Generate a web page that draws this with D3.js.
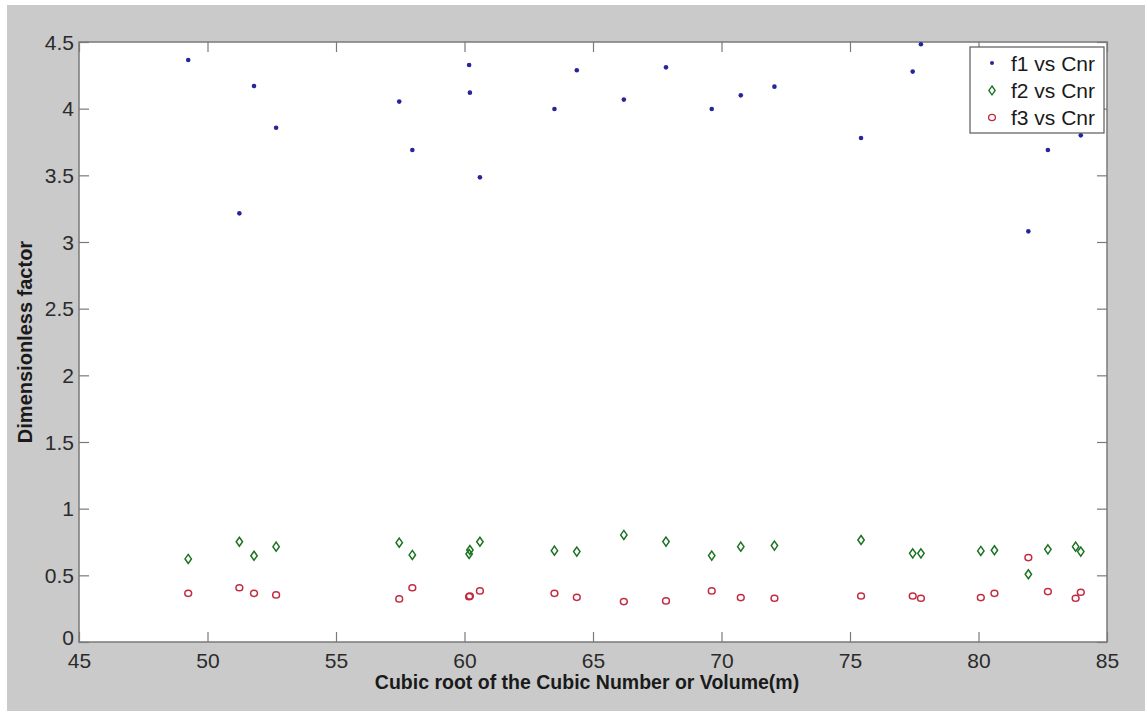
<!DOCTYPE html>
<html>
<head>
<meta charset="utf-8">
<script src="https://cdn.jsdelivr.net/npm/d3@7"></script>
<style>
  html, body { margin: 0; padding: 0; background: #ffffff; }
  svg { display: block; font-family: "Liberation Sans", Arial, sans-serif; }
</style>
</head>
<body>
<svg id="chart" width="1145" height="711"></svg>
<script>
// Cubic root of cubic number / volume (m) for each sample
const cnr = [49.25, 51.24, 51.81, 52.67, 57.46, 57.97, 60.18, 60.21, 60.60, 63.50,
             64.37, 66.20, 67.84, 69.62, 70.75, 72.06, 75.43, 77.44, 77.76, 80.09,
             80.62, 81.94, 82.70, 83.78, 83.98];

// Dimensionless factors
const f1 = [4.365, 3.215, 4.170, 3.857, 4.053, 3.690, 4.328, 4.120, 3.485, 3.997,
            4.288, 4.068, 4.310, 3.997, 4.100, 4.165, 3.780, 4.278, 4.483, 4.210,
            3.980, 3.080, 3.690, 4.360, 3.800];
const f2 = [0.623, 0.752, 0.647, 0.715, 0.745, 0.653, 0.660, 0.690, 0.752, 0.685,
            0.678, 0.803, 0.753, 0.648, 0.715, 0.723, 0.765, 0.665, 0.665, 0.683,
            0.688, 0.508, 0.695, 0.715, 0.678];
const f3 = [0.365, 0.407, 0.365, 0.353, 0.323, 0.407, 0.340, 0.345, 0.383, 0.365,
            0.335, 0.303, 0.308, 0.383, 0.333, 0.328, 0.345, 0.345, 0.328, 0.333,
            0.365, 0.633, 0.378, 0.328, 0.373];

const xTicks = [45, 50, 55, 60, 65, 70, 75, 80, 85];
const yTicks = [0, 0.5, 1, 1.5, 2, 2.5, 3, 3.5, 4, 4.5];
const yTickLabels = ["0", "0.5", "1", "1.5", "2", "2.5", "3", "3.5", "4", "4.5"];

const seriesNames = ["f1 vs Cnr", "f2 vs Cnr", "f3 vs Cnr"];
const xLabel = "Cubic root of the Cubic Number or Volume(m)";
const yLabel = "Dimensionless factor";

const svg = d3.select("#chart");
const W = 1145, H = 711;
const plot = { left: 79, right: 1107, top: 42, bottom: 642 };

const colors = { f1: "#26269a", f2: "#1c7222", f3: "#c22a40" };
const axisColor = "#7a7a7a";
const labelColor = "#2b2b2b";

// figure background
svg.append("rect").attr("x", 0).attr("y", 0).attr("width", W).attr("height", H).attr("fill", "#ffffff");
svg.append("rect").attr("x", 7).attr("y", 5).attr("width", W - 7).attr("height", H - 5).attr("fill", "#cacaca");

const x = d3.scaleLinear().domain([45, 85]).range([plot.left, plot.right]);
const y = d3.scaleLinear().domain([0, 4.5]).range([plot.bottom, plot.top]);

// axes background
svg.append("rect")
  .attr("x", plot.left).attr("y", plot.top)
  .attr("width", plot.right - plot.left).attr("height", plot.bottom - plot.top)
  .attr("fill", "#ffffff");

const tickLen = 10;

function styleAxis(g, showLabels) {
  g.select(".domain").remove();
  g.selectAll(".tick line").attr("stroke", axisColor).attr("stroke-width", 1.2);
  if (!showLabels) g.selectAll(".tick text").remove();
  else g.selectAll(".tick text").attr("fill", labelColor).attr("font-size", 21);
}

// bottom axis with labels
const gx = svg.append("g").attr("transform", `translate(0,${plot.bottom})`)
  .call(d3.axisBottom(x).tickValues(xTicks).tickFormat(d3.format("d")).tickSizeInner(-tickLen).tickSizeOuter(0));
styleAxis(gx, true);
gx.selectAll(".tick text").attr("y", 26).attr("dy", 0);

// top axis (ticks only)
const gxt = svg.append("g").attr("transform", `translate(0,${plot.top})`)
  .call(d3.axisTop(x).tickValues(xTicks).tickSizeInner(-tickLen).tickSizeOuter(0));
styleAxis(gxt, false);

// left axis with labels; the zero label is lifted a little clear of the x labels
const gy = svg.append("g").attr("transform", `translate(${plot.left},0)`)
  .call(d3.axisLeft(y).tickValues(yTicks).tickFormat((d, i) => yTickLabels[i]).tickSizeInner(-tickLen).tickSizeOuter(0));
styleAxis(gy, true);
gy.selectAll(".tick text").attr("x", -5).attr("dy", d => d === 0 ? "0.1em" : "0.34em");

// right axis (ticks only)
const gyr = svg.append("g").attr("transform", `translate(${plot.right},0)`)
  .call(d3.axisRight(y).tickValues(yTicks).tickSizeInner(-tickLen).tickSizeOuter(0));
styleAxis(gyr, false);

// axes frame
svg.append("rect")
  .attr("x", plot.left).attr("y", plot.top)
  .attr("width", plot.right - plot.left).attr("height", plot.bottom - plot.top)
  .attr("fill", "none").attr("stroke", axisColor).attr("stroke-width", 1.5);

// marker shapes
const diamondPath = (cx, cy) => `M${cx},${cy - 4.5}L${cx + 3.2},${cy}L${cx},${cy + 4.5}L${cx - 3.2},${cy}Z`;

const pts = cnr.map((c, i) => ({ c, f1: f1[i], f2: f2[i], f3: f3[i] }));
const marks = svg.append("g");

// f1: point markers
marks.append("g").selectAll("circle").data(pts).join("circle")
  .attr("cx", d => x(d.c)).attr("cy", d => y(d.f1))
  .attr("r", 2.3).attr("fill", colors.f1);

// f2: diamond markers
marks.append("g").selectAll("path").data(pts).join("path")
  .attr("d", d => diamondPath(x(d.c), y(d.f2)))
  .attr("fill", "none").attr("stroke", colors.f2).attr("stroke-width", 1.5);

// f3: circle markers
marks.append("g").selectAll("ellipse").data(pts).join("ellipse")
  .attr("cx", d => x(d.c)).attr("cy", d => y(d.f3))
  .attr("rx", 3.4).attr("ry", 3.1)
  .attr("fill", "none").attr("stroke", colors.f3).attr("stroke-width", 1.5);

// axis titles
svg.append("text")
  .attr("x", (plot.left + plot.right) / 2 - 6).attr("y", 689)
  .attr("text-anchor", "middle").attr("font-weight", "bold").attr("font-size", 19.5)
  .attr("fill", "#1a1a1a").text(xLabel);

svg.append("text")
  .attr("transform", `translate(32,${(plot.top + plot.bottom) / 2}) rotate(-90)`)
  .attr("text-anchor", "middle").attr("font-weight", "bold").attr("font-size", 20)
  .attr("fill", "#1a1a1a").text(yLabel);

// legend
const lg = svg.append("g");
lg.append("rect")
  .attr("x", 970).attr("y", 47).attr("width", 134).attr("height", 86)
  .attr("fill", "#ffffff").attr("stroke", "#5a5a5a").attr("stroke-width", 1.2);

const rowY = [63, 90.5, 117.5];
const mx = 992;
lg.append("circle").attr("cx", mx).attr("cy", rowY[0]).attr("r", 2).attr("fill", colors.f1);
lg.append("path").attr("d", diamondPath(mx, rowY[1])).attr("fill", "none")
  .attr("stroke", colors.f2).attr("stroke-width", 1.3);
lg.append("ellipse").attr("cx", mx).attr("cy", rowY[2]).attr("rx", 3.4).attr("ry", 3.1)
  .attr("fill", "none").attr("stroke", colors.f3).attr("stroke-width", 1.3);

lg.selectAll("text.entry").data(seriesNames).join("text")
  .attr("class", "entry")
  .attr("x", 1011).attr("y", (d, i) => rowY[i]).attr("dy", "0.36em")
  .attr("font-size", 21).attr("fill", "#1a1a1a").text(d => d);
</script>
</body>
</html>
